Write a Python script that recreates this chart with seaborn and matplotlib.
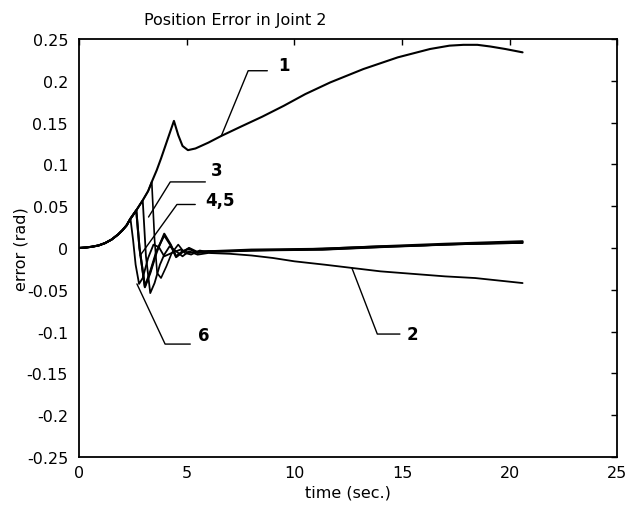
import matplotlib
matplotlib.use("Agg")
import matplotlib.pyplot as plt
import seaborn as sns
import pandas as pd

# ---------------- data ----------------
# shared trunk (all controllers identical before switching)
trunk_t = [0.0, 0.3, 0.6, 0.9, 1.2, 1.5, 1.8, 2.0, 2.2, 2.38, 2.65, 2.95, 3.2, 3.37,
           3.6, 3.8, 4.0, 4.2, 4.4]
trunk_e = [0.0, 0.0005, 0.0015, 0.003, 0.0058, 0.010, 0.016, 0.021, 0.027, 0.035,
           0.045, 0.057, 0.068, 0.079, 0.093, 0.107, 0.122, 0.137, 0.152]

# curve 1 after its late switch (t = 4.4)
c1_t = [4.6, 4.8, 5.05, 5.4, 6.0, 6.6, 7.5, 8.5, 9.5, 10.5, 11.66, 13.2, 14.8, 16.3,
        17.2, 17.85, 18.5, 19.1, 19.8, 20.6]
c1_e = [0.135, 0.122, 0.117, 0.119, 0.126, 0.134, 0.145, 0.157, 0.170, 0.184, 0.198,
        0.214, 0.228, 0.238, 0.242, 0.243, 0.243, 0.241, 0.238, 0.234]

# curve 2 (switch t = 2.95)
c2_t = [3.1, 3.3, 3.5, 3.75, 3.95, 4.2, 4.5, 4.8, 5.1, 5.5, 6.0, 7.0, 8.0, 9.0, 10.0,
        11.4, 12.7, 14.0, 15.5, 17.0, 18.4, 19.5, 20.6]
c2_e = [-0.010, -0.054, -0.042, -0.020, -0.008, 0.002, -0.004, -0.010, -0.004, -0.008,
        -0.006, -0.007, -0.009, -0.012, -0.016, -0.020, -0.024, -0.028, -0.031, -0.034,
        -0.036, -0.039, -0.042]

# curve 3 (switch t = 3.37)
c3_t = [3.5, 3.62, 3.8, 4.05, 4.3, 4.6, 4.9, 5.2, 5.6, 6.0, 7.0, 8.0, 11.3, 14.0,
        17.0, 20.6]
c3_e = [0.010, -0.030, -0.036, -0.022, -0.006, 0.004, -0.006, -0.008, -0.003, -0.005,
        -0.004, -0.003, -0.002, 0.001, 0.004, 0.006]

# curves 4 and 5 (switch t = 2.65)
c4_t = [2.8, 3.05, 3.3, 3.6, 3.95, 4.25, 4.5, 4.8, 5.1, 5.5, 6.0, 7.0, 8.0, 11.3,
        14.0, 17.0, 20.6]
c4_e = [0.0, -0.047, -0.030, -0.005, 0.017, 0.004, -0.010, -0.004, -0.001, -0.006,
        -0.004, -0.004, -0.003, -0.002, 0.001, 0.004, 0.007]
c5_e = [0.0, -0.046, -0.028, -0.003, 0.015, 0.003, -0.011, -0.005, 0.000, -0.005,
        -0.004, -0.003, -0.002, -0.001, 0.002, 0.005, 0.008]

# curve 6 (switch t = 2.38)
c6_t = [2.5, 2.62, 2.78, 2.95, 3.2, 3.45, 3.7, 3.95, 4.3, 4.7, 5.1, 5.6, 6.5, 8.0,
        10.0, 12.0, 14.0, 16.0, 18.0, 20.6]
c6_e = [0.010, -0.020, -0.043, -0.036, -0.012, 0.004, 0.001, -0.010, -0.006, -0.002,
        -0.006, -0.004, -0.004, -0.003, -0.002, 0.000, 0.002, 0.003, 0.005, 0.006]

switch_times = {"1": 4.4, "2": 2.95, "3": 3.37, "4": 2.65, "5": 2.65, "6": 2.38}
post = {"1": (c1_t, c1_e), "2": (c2_t, c2_e), "3": (c3_t, c3_e),
        "4": (c4_t, c4_e), "5": (c4_t, c5_e), "6": (c6_t, c6_e)}

x_ticks = [0, 5, 10, 15, 20, 25]
y_ticks = [0.25, 0.2, 0.15, 0.1, 0.05, 0, -0.05, -0.1, -0.15, -0.2, -0.25]
y_tick_labels = ["0.25", "0.2", "0.15", "0.1", "0.05", "0", "-0.05", "-0.1", "-0.15",
                 "-0.2", "-0.25"]

rows = []
for name, ts in switch_times.items():
    for t, e in zip(trunk_t, trunk_e):
        if t <= ts + 1e-9:
            rows.append((name, t, e))
    pt, pe = post[name]
    for t, e in zip(pt, pe):
        rows.append((name, t, e))
df = pd.DataFrame(rows, columns=["curve", "time", "error"])

# ---------------- plot ----------------
sns.set_style("white")
plt.rcParams["font.family"] = ["DejaVu Sans"]
plt.rcParams["text.color"] = "black"
plt.rcParams["axes.labelcolor"] = "black"

fig = plt.figure(figsize=(6.39, 5.06), dpi=100)
ax = fig.add_axes([0.124, 0.095, 0.842, 0.826])

widths = {"1": 1.5, "2": 1.3, "3": 1.2, "4": 1.5, "5": 1.5, "6": 1.3}
for name in switch_times:
    sub = df[df["curve"] == name]
    sns.lineplot(data=sub, x="time", y="error", ax=ax, color="black",
                 linewidth=widths[name], sort=False, estimator=None)

ax.set_xlim(0, 25)
ax.set_ylim(-0.25, 0.25)
ax.set_xticks(x_ticks)
ax.set_xticklabels([str(v) for v in x_ticks])
ax.set_yticks(y_ticks)
ax.set_yticklabels(y_tick_labels)
ax.tick_params(direction="in", top=True, right=True, length=4, width=1,
               labelsize=11.5, color="black", labelcolor="black")
ax.tick_params(axis="y", pad=8)
ax.tick_params(axis="x", pad=6)
for s in ax.spines.values():
    s.set_color("black")
    s.set_linewidth(1.3)

ax.set_xlabel("time (sec.)", fontsize=11.5, labelpad=3, color="black")
ax.set_ylabel("error (rad)", fontsize=11.5, labelpad=-1, color="black")
ax.set_title("Position Error in Joint 2", fontsize=11.5, x=0.29, pad=11,
             color="black")

# leader lines and labels
lk = dict(color="black", linewidth=1.0)
tk = dict(fontsize=12, fontweight="bold", va="center", ha="center", color="black")
ax.plot([6.6, 7.85, 8.74], [0.134, 0.212, 0.212], **lk)
ax.text(9.5, 0.219, "1", **tk)
ax.plot([3.22, 4.23, 5.86], [0.037, 0.079, 0.079], **lk)
ax.text(6.4, 0.093, "3", **tk)
ax.plot([2.83, 4.54, 5.39], [-0.009, 0.052, 0.052], **lk)
ax.text(6.55, 0.057, "4,5", **tk)
ax.plot([2.68, 3.99, 5.16], [-0.043, -0.115, -0.115], **lk)
ax.text(5.8, -0.104, "6", **tk)
ax.plot([12.67, 13.85, 14.9], [-0.024, -0.103, -0.103], **lk)
ax.text(15.5, -0.103, "2", **tk)

fig.savefig("out.png", dpi=100)
